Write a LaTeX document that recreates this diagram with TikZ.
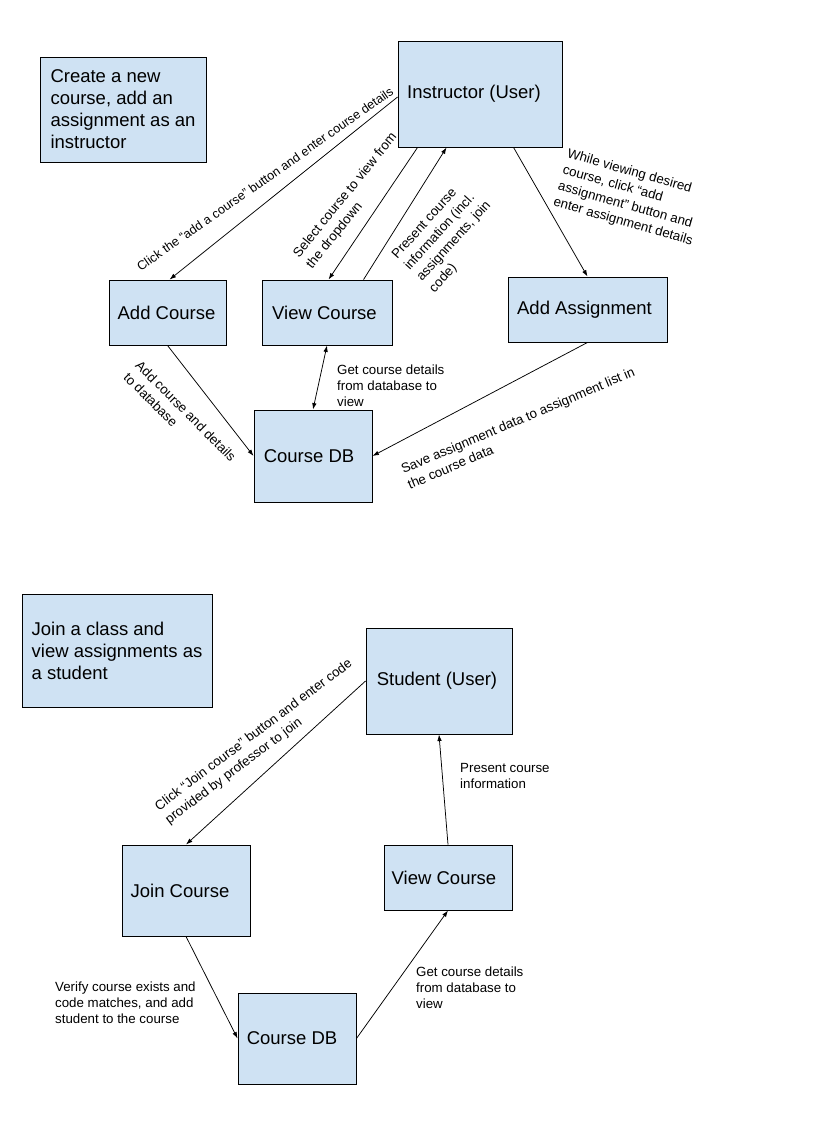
\documentclass[tikz,border=0pt]{standalone}
\usepackage{fontspec}
\setmainfont{Liberation Sans}
\usetikzlibrary{arrows.meta,calc}
\definecolor{boxfill}{HTML}{CFE2F3}
\tikzset{
  box/.style={draw=black, fill=boxfill, line width=0.9pt, inner sep=0pt,
    font=\fontsize{18.5}{22}\selectfont},
  titlebox/.style={box, align=left},
  % pull the label a little to the left of the box centre
  lean/.style={execute at end node={\hspace*{#1pt}}},
  flow/.style={draw=black, line width=0.75pt, -{Latex[length=6.5pt,width=4.5pt]}},
  twoway/.style={draw=black, line width=0.75pt, {Latex[length=6.5pt,width=4.5pt]}-{Latex[length=6.5pt,width=4.5pt]}},
  note/.style={font=\fontsize{13.3}{16}\selectfont, align=left, inner sep=0pt},
  slanted/.style={note, font=\fontsize{13.3}{16.8}\selectfont, rotate=#1},
}
\begin{document}
\begin{tikzpicture}[x=1pt,y=-1pt]
\useasboundingbox (0,0) rectangle (820,1146);

% ---------- Instructor workflow ----------
\node[titlebox, minimum width=166, minimum height=105] (title1) at (123,109.5)
  {Create a new\\course, add an\\assignment as an\\instructor};
\node[box, lean=12, minimum width=164, minimum height=106] (instr) at (480,94) {Instructor (User)};
\node[box, lean=2, minimum width=117, minimum height=65] (addc) at (167.5,312.5) {Add Course};
\node[box, lean=5, minimum width=130, minimum height=65] (viewc) at (327,312.5) {View Course};
\node[box, lean=6, minimum width=159, minimum height=65] (addas) at (587.5,309.5) {Add Assignment};
\node[box, lean=8, minimum width=118, minimum height=92] (cdb) at (313,456) {Course DB};

\draw[flow] ($(instr.west)+(0,3)$) -- ($(addc.north west)+(61,0)$);
\draw[flow] ($(instr.south west)+(20,0)$) -- ($(viewc.north west)+(67,0)$);
\draw[flow] ($(viewc.north west)+(102,0)$) -- ($(instr.south west)+(49,0)$);
\draw[flow] ($(instr.south west)+(116,0)$) -- (addas.north);
\draw[flow] (addc.south) -- (cdb.west);
\draw[twoway] (viewc.south) -- (cdb.north);
\draw[flow] (addas.south) -- (cdb.east);

\node[note, rotate=35, font=\fontsize{12.6}{16}\selectfont] (lab1) at (265,179)
  {Click the “add a course” button and enter course details};
\node[slanted=51] (lab2) at (352,201) {Select course to view from\\the dropdown};
\node[slanted=48] (lab3) at (448,236)
  {Present course\\information (incl.\\assignments, join\\code)};
\node[slanted=-16] (lab4) at (630,198)
  {While viewing desired\\course, click “add\\assignment” button and\\enter assignment details};
\node[slanted=-45] (lab5) at (180,417) {Add course and details\\to database};
\node[note, anchor=north west] (lab6) at (337,365) {Get course details\\from database to\\view};
\node[slanted=23] (lab7) at (521,428)
  {Save assignment data to assignment list in\\the course data};

% ---------- Student workflow ----------
\node[titlebox, minimum width=190, minimum height=113] (title2) at (117,650.5)
  {Join a class and\\view assignments as\\a student};
\node[box, lean=4, minimum width=146, minimum height=106] (stud) at (439,681) {Student (User)};
\node[box, lean=12, minimum width=128, minimum height=91] (joinc) at (186,890.5) {Join Course};
\node[box, lean=8, minimum width=128, minimum height=65] (viewc2) at (448,877.5) {View Course};
\node[box, lean=10, minimum width=118, minimum height=91] (cdb2) at (297,1038.5) {Course DB};

\draw[flow] (stud.west) -- (joinc.north);
\draw[flow] (viewc2.north) -- (stud.south);
\draw[flow] (joinc.south) -- (cdb2.west);
\draw[flow] (cdb2.east) -- (viewc2.south);

\node[slanted=37] (lab8) at (259,742)
  {Click “Join course” button and enter code\\provided by professor to join};
\node[note, anchor=north west] (lab9) at (460,763) {Present course\\information};
\node[note, anchor=north west] (lab10) at (55,982)
  {Verify course exists and\\code matches, and add\\student to the course};
\node[note, anchor=north west] (lab11) at (416,967) {Get course details\\from database to\\view};
\end{tikzpicture}
\end{document}
